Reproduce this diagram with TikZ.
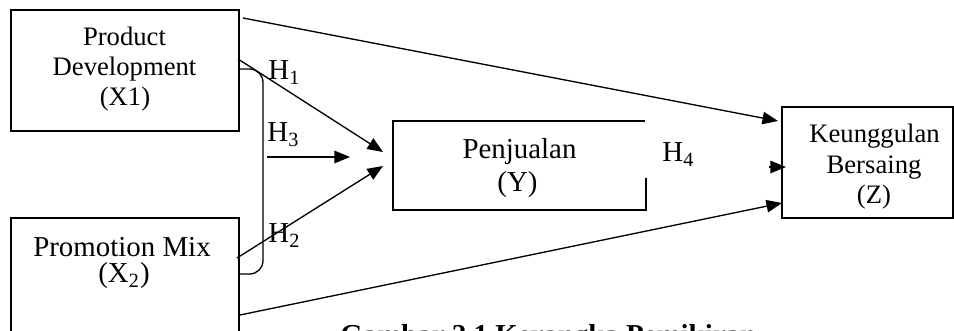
\documentclass[tikz,border=0pt]{standalone}
\usepackage{fontspec}
\setmainfont{Liberation Serif}
\usetikzlibrary{arrows.meta,calc}
\tikzset{
  line/.style={line width=0.6pt, black},
  arr/.style={line, -{Triangle[length=7pt,width=5.6pt]}},
  boxnode/.style={line, draw, rectangle, inner sep=0pt, outer sep=0pt},
  hidebox/.style={rectangle, inner sep=0pt, outer sep=0pt},
  txa/.style={anchor=base, inner sep=0pt, font=\fontsize{12}{14}\selectfont},
  txb/.style={anchor=base, inner sep=0pt, font=\fontsize{13}{15}\selectfont},
  hlab/.style={anchor=base west, inner sep=0pt, font=\fontsize{13}{15}\selectfont},
  capt/.style={anchor=base west, inner sep=0pt, font=\fontsize{13}{15}\selectfont\bfseries}
}
\begin{document}
\begin{tikzpicture}[x=0.45pt, y=-0.45pt]
\clip (0,0) rectangle (954,331);
\fill[white] (0,0) rectangle (954,331);
% boxes
\node[boxnode, minimum width={228*0.45pt}, minimum height={121*0.45pt}] (x1) at (125,70.5) {};
\node[hidebox, minimum width={228*0.45pt}, minimum height={144*0.45pt}] (x2) at (125,290) {};
\draw[line] (x2.south west) -- (x2.north west) -- (x2.north east) -- (x2.south east);
\node[hidebox, minimum width={253*0.45pt}, minimum height={89*0.45pt}] (yb) at (519.5,165.5) {};
\draw[line] ($(yb.north east)+(-1,0)$) -- (yb.north west) -- (yb.south west) -- (yb.south east) -- ($(yb.south east)+(0,-32)$);
\node[boxnode, minimum width={171*0.45pt}, minimum height={111*0.45pt}] (z) at (867.5,162.5) {};
% texts
\node[txa] (t1a) at (124.5,46) {Product};
\node[txa] (t1b) at (124.5,76) {Development};
\node[txa] (t1c) at (125,106) {(X1)};
\node[txb] (t2a) at (122,257) {Promotion Mix};
\node[txb] (t2b) at (124,283) {(X\textsubscript{2})};
\node[txb] (tya) at (519.5,159) {Penjualan};
\node[txb] (tyb) at (517.5,192) {(Y)};
\node[txa] (tza) at (874.5,143) {Keunggulan};
\node[txa] (tzb) at (874,174) {Bersaing};
\node[txa] (tzc) at (874,204) {(Z)};
% hypothesis labels
\node[hlab] (h1) at (268,80) {H\textsubscript{1}};
\node[hlab] (h3) at (267,142) {H\textsubscript{3}};
\node[hlab] (h2) at (268,243) {H\textsubscript{2}};
\node[hlab] (h4) at (662,162) {H\textsubscript{4}};
% connector end points
\coordinate (a1) at ($(x1.north east)+(4,8)$);
\coordinate (a2) at ($(z.north west)+(-4,14)$);
\coordinate (b1) at ($(x1.east)+(-1,-11.5)$);
\coordinate (b2) at (383,152);
\coordinate (c1) at (237,258);
\coordinate (c2) at (383,166);
\coordinate (d1) at (267,157);
\coordinate (d2) at (350,157);
\coordinate (e1) at (240,315);
\coordinate (e2) at ($(z.south west)+(0,-15)$);
\coordinate (f1) at (769,167);
\coordinate (f2) at (786,167);
% connectors
\draw[arr] (a1) -- (a2);
\draw[arr] (b1) -- (b2);
\draw[arr] (c1) -- (c2);
\draw[arr] (d1) -- (d2);
\draw[arr] (e1) -- (e2);
\draw[arr] (f1) -- (f2);
% bracket
\draw[line, rounded corners=6pt] (240,69) -- (263,69) -- (263,274) -- (240,274);
% caption (cut off at bottom)
\node[capt] (cap) at (340,344) {Gambar 2.1 Kerangka Pemikiran};
\end{tikzpicture}
\end{document}
